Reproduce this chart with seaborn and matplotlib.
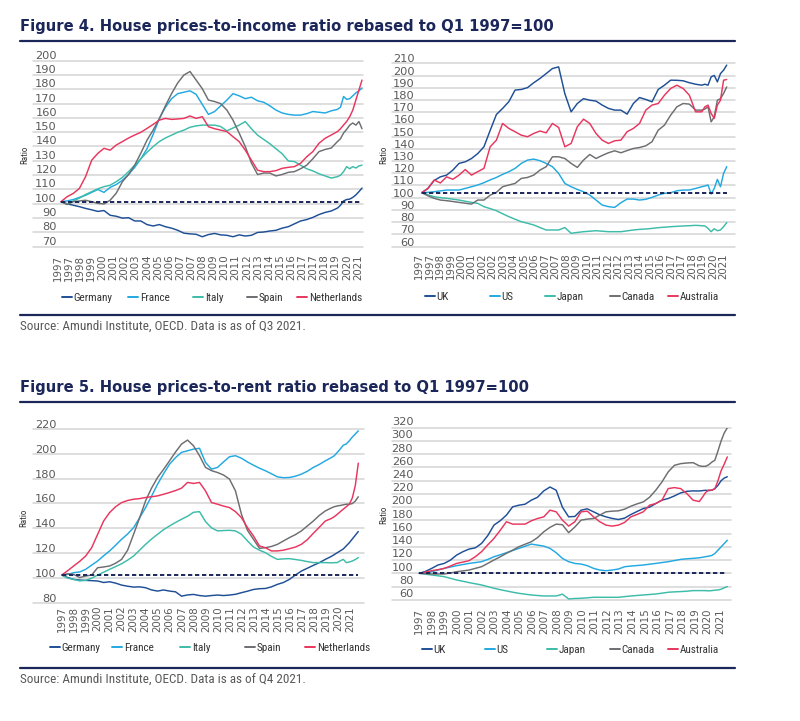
import numpy as np
import pandas as pd
import matplotlib.pyplot as plt
import seaborn as sns
from matplotlib.lines import Line2D
from matplotlib.transforms import ScaledTranslation

sns.set_theme(style="white")

W, H, DPI = 800, 721, 100
NAVY = "#1b2659"
GREY_TXT = "#595959"
NARROW = ["Liberation Sans Narrow", "DejaVu Sans Condensed", "Roboto Condensed", "DejaVu Sans"]
plt.rcParams["font.family"] = ["DejaVu Sans"]

# ---------------------------
# Data (half-yearly to 2019, quarterly afterwards)
# ---------------------------
t_income = [1997.0 + 0.5 * i for i in range(46)] + [2019.75 + 0.25 * i for i in range(8)]
t_rent = [1997.0 + 0.5 * i for i in range(46)] + [2019.75 + 0.25 * i for i in range(9)]
BASE = 100

eu_names = ["Germany", "France", "Italy", "Spain", "Netherlands"]
oth_names = ["UK", "US", "Japan", "Canada", "Australia"]
colors = ["#1e4f96", "#22a9e1", "#3dbcaa", "#6d6e71", "#e8365e"]

income_germany = [
    100, 98.5, 97.5, 96.5, 95.3, 94.3, 93.2, 93.8, 90.5, 89.8,
    88.5, 88.8, 86.5, 86.5, 84, 83, 84, 82.5, 81.5, 80,
    78, 77.5, 77.2, 75.5, 77, 77.8, 76.8, 76.5, 75.5, 76.8,
    76, 76.5, 78.5, 78.8, 79.5, 80, 81.5, 82.5, 84.5, 86.5,
    87.5, 89, 91, 92.5, 93.5, 95.5,
    97.5, 100.5, 101.5, 101.8, 103, 104.7, 107, 109.5]
income_france = [
    100, 100.5, 101.5, 103, 104.5, 106.5, 108.5, 106.5, 110, 112,
    115, 119, 124, 130, 137, 147, 158, 166, 172, 175.5,
    176.5, 177.5, 175, 168, 161, 163, 167, 171, 175.5, 174,
    172, 173, 170.5, 169.5, 167, 164, 162, 161, 160.5, 160.5,
    161.5, 163, 162.5, 162, 163.5, 164.5,
    166, 173.5, 171.5, 172, 174, 176, 177.5, 179.5]
income_italy = [
    100, 98.5, 100.5, 102.5, 105, 107, 109, 110.5, 111.5, 114,
    117, 121, 125.5, 130, 134.5, 138.5, 142, 144.5, 146.5, 148.5,
    150, 152, 153, 153.5, 153.5, 153.5, 152.5, 149.5, 151.5, 153.5,
    156, 151, 146.5, 143.5, 140.5, 137, 133.5, 128.5, 128, 125.5,
    123, 121.5, 119.5, 118, 116.5, 117.5,
    118.5, 121, 124.5, 123, 124.5, 123.5, 125, 125.5]
income_spain = [
    100, 98, 100, 100.5, 101, 100, 98.8, 98.4, 101, 106,
    114, 119, 125.5, 134, 143, 150, 158, 167, 175.5, 183,
    188.5, 191, 185, 179, 171, 170, 168.5, 164, 157, 148,
    138.5, 127, 119, 120, 120, 118, 119, 120.5, 121, 123,
    125.5, 130, 135, 136.5, 137.5, 142,
    144, 148, 150.5, 153.5, 155, 153.5, 156, 151]
income_netherlands = [
    100, 103.5, 105.8, 109.3, 117.5, 129, 133.8, 137.3, 136, 139.6,
    142, 144.5, 146.6, 148.5, 151.2, 154, 157, 158.2, 157.5, 157.8,
    158.2, 159.9, 158.2, 159.4, 152.4, 151, 150, 149, 145.4, 142,
    136, 129, 122, 121, 121, 121.7, 123.3, 124, 124.5, 126.8,
    131.4, 135, 140.8, 144.3, 146.6, 149,
    151, 153.6, 156, 159.4, 164, 171, 178, 185]

income_uk = [
    100, 103.5, 110, 113, 114.4, 118.5, 124, 125.3, 128, 132,
    137.6, 151, 164, 169, 174.5, 184, 184.5, 186, 190, 193.5,
    197.5, 201.6, 203, 181, 166.2, 173, 177, 175.7, 175, 171.7,
    169, 167.6, 167.6, 164.3, 173, 177.9, 176.3, 174.4, 184.5, 188,
    192.1, 192, 191.6, 190, 188.8, 188,
    188.8, 188, 194.8, 196, 190.7, 197.5, 200.3, 204.4]
income_us = [
    100, 100.3, 100.8, 101.5, 102.2, 102.2, 102.2, 103.5, 104.9, 106.3,
    108.2, 110.5, 112.5, 115, 117.2, 119.9, 124, 126.7, 127.5, 126.2,
    124, 121.3, 115.8, 107.6, 104.9, 102.7, 100.8, 98.1, 94, 89.9,
    88.6, 88, 91.8, 94.8, 94.8, 94, 94.6, 96.2, 98.1, 99.5,
    100, 101.6, 102.2, 102.2, 103.5, 104.9,
    105.5, 106.3, 98.9, 103.5, 110.9, 104.9, 115.8, 121.3]
income_japan = [
    100, 98.3, 96.7, 96, 95.4, 94.7, 94, 93, 92.1, 91.3,
    88.6, 87, 85.3, 82.8, 80.4, 78.3, 76.3, 75, 73.6, 71.5,
    69.5, 69.5, 69.5, 71.5, 66.8, 67.5, 68.1, 68.5, 68.9, 68.5,
    68.1, 68.1, 68.1, 68.8, 69.5, 70, 70.3, 70.8, 71.4, 71.8,
    72.2, 72.5, 72.8, 73, 73.3, 73,
    72.8, 70.8, 68.1, 70.5, 68.9, 69.5, 72.2, 75.5]
income_canada = [
    100, 97.5, 95.4, 94, 93.5, 92.8, 92.1, 91.4, 90.7, 94,
    94, 98, 100.3, 104.9, 106.3, 107.6, 111.7, 112.5, 114.4, 118.5,
    121.3, 129.4, 129.4, 128, 124, 120.7, 126.7, 131.3, 128, 130.5,
    132.7, 134.3, 132.7, 134.5, 136.2, 137, 138.4, 141.7, 151.2, 155.3,
    163.5, 170.3, 173, 172.5, 167.6, 167.6,
    168.5, 170.3, 158, 162.1, 175.7, 177, 181.2, 186.6]
income_australia = [
    100, 103.5, 110.4, 108, 113, 111, 114.4, 119, 114.4, 117.2,
    119.9, 137.6, 143, 156.7, 152.6, 149.9, 147.1, 145.8, 148.5, 150.5,
    149, 156.7, 153.4, 137.6, 140.3, 154, 160.2, 156.7, 148.5, 143,
    140.3, 142.5, 143, 149.9, 152.6, 156.7, 167.6, 171.7, 173, 179.8,
    185.3, 188, 185.3, 179.8, 166.2, 166.2,
    170.3, 171.7, 164.9, 160.8, 171.7, 175.7, 192.1, 192.6]

rent_germany = [
    100, 98, 96.5, 96, 95.7, 95.5, 95.2, 94, 94.6, 93.5,
    91.9, 91, 90.3, 90.5, 89.8, 88, 87.1, 88, 87.1, 86.5,
    83, 84, 84.4, 83.5, 83, 83.5, 83.9, 83.5, 83.9, 84.5,
    85.8, 87, 88.4, 89, 89.2, 90.5, 92.5, 94, 96.5, 100,
    103.2, 105.5, 107.8, 110, 112.6, 115,
    116.5, 118, 119.5, 121, 123.5, 126, 129, 132, 135]
rent_france = [
    100, 100.5, 101.9, 102.5, 104.6, 108, 111.3, 115.5, 119.4, 124,
    128.8, 133, 138.2, 146, 154.3, 163.5, 173.1, 181.5, 189.2, 194.5,
    198.7, 200, 201.3, 202, 190.6, 185.2, 186.6, 191, 195.2, 196,
    194, 191, 188.4, 186, 183.9, 181.5, 179, 178.3, 178.5, 179.5,
    181.2, 183.5, 186.6, 189, 191.9, 194.5,
    196, 198.7, 201.5, 204.5, 205.5, 208, 211, 213.5, 216]
rent_italy = [
    100, 97.5, 96.5, 95.3, 95.7, 97.5, 100, 102.3, 104.6, 106.8,
    109.1, 112, 115.3, 120, 124.7, 129, 132.8, 136.5, 139.5, 142.3,
    144.9, 147.3, 150.5, 151, 143, 138, 135.5, 135.8, 136, 135.5,
    132.8, 127.5, 122.6, 120, 118, 115, 112.6, 113, 113.2, 112.5,
    111.8, 110.8, 110, 110, 110, 109.8,
    110, 110, 111.5, 112.6, 110, 110.5, 111.3, 112.5, 114]
rent_spain = [
    100, 101, 100.5, 98, 99.2, 100, 105.9, 106.5, 107.3, 109.5,
    112.6, 120, 132.8, 146, 159.7, 170, 178.5, 185, 191.9, 199,
    205.4, 208.6, 204, 196, 186.6, 184, 182.5, 180.5, 177.2, 167.7,
    148.9, 136, 128.8, 121.5, 122, 123, 124.7, 127.4, 130.1, 132.5,
    135.5, 139.5, 143.5, 148, 151.6, 154,
    155, 155.6, 156, 156.5, 157, 157, 157.5, 159.5, 163]
rent_netherlands = [
    100, 103.5, 107.3, 111, 115.3, 122, 132.8, 143.5, 150.3, 155,
    158.3, 160, 161, 161.5, 162.4, 163, 163.7, 165, 166.4, 168,
    169.9, 174.5, 173.7, 174.5, 167.7, 158.3, 157, 155.5, 154.3, 151,
    146.2, 138.2, 131.5, 123.4, 122, 119.4, 119.4, 120, 121.2, 122.5,
    124.7, 128.5, 133.6, 138.5, 143.5, 145.5,
    147, 148.9, 151, 153, 155, 157, 162, 172, 190]

rent_uk = [
    100, 103, 107.5, 112.6, 115, 120, 127.6, 132.7, 136.7, 138.5,
    145.2, 157, 172.9, 179.5, 188, 200.5, 203, 204.5, 210.6, 215,
    224.6, 230.5, 225.6, 200, 185.4, 186, 195.5, 197.5, 193, 188.5,
    185.4, 183, 181.4, 183.5, 188.9, 193.5, 198, 200, 205.5, 210.6,
    213.1, 217, 221.6, 224, 224.6, 224.5,
    225, 225.6, 225, 225.6, 228, 233, 240, 244, 246]
rent_us = [
    100, 101, 102.5, 105, 107.5, 109.5, 111.6, 113.3, 115, 116.3,
    117.6, 121, 125.1, 128, 131.2, 134.5, 137.7, 141, 144.2, 142.7,
    141.2, 137.7, 131.2, 122.6, 117.6, 115, 114, 111.6, 107.5, 105,
    104, 105, 106.5, 110, 111, 111.8, 112.6, 113.8, 115, 116.3,
    117.6, 119.3, 121.1, 122, 122.6, 123.5,
    124.3, 125.1, 126, 127, 130, 135, 140, 145, 150]
rent_japan = [
    100, 98.7, 97.5, 96.3, 95, 92.5, 90, 88, 86, 84.2,
    82.4, 80, 77.4, 75.3, 73.4, 71.5, 69.8, 68.5, 67.3, 66.5,
    65.8, 65.8, 65.8, 68.5, 61.3, 62, 62.3, 63, 63.8, 63.8,
    63.8, 63.8, 63.8, 64.8, 65.8, 66.5, 67.3, 68, 68.8, 70,
    71.4, 72, 72.4, 73, 73.9, 73.9,
    73.9, 73.9, 73.5, 73.9, 74.5, 74.9, 76, 78, 80]
rent_canada = [
    100, 99.5, 99, 99, 99, 100.5, 102.5, 103.7, 105, 107.5,
    110, 115, 120.1, 125, 130.2, 135, 140.2, 144, 147.7, 154,
    162.8, 169.5, 174.4, 173.5, 161.5, 170, 180.4, 182, 182.9, 188,
    193, 194, 194.5, 197, 201.5, 205, 208, 215, 225.6, 238.2,
    253.3, 263.3, 265.8, 266.8, 267.3, 262.5,
    261.8, 261.8, 264, 268, 271, 285, 300, 312, 320]
rent_australia = [
    100, 102, 104, 105.5, 107.5, 111, 115, 117, 119.1, 125.1,
    132.7, 143, 152.8, 165, 178, 174.4, 174.4, 174.4, 179.4, 182.9,
    185.4, 195.5, 193, 180.4, 171.4, 178, 193, 194, 185.4, 178,
    172.9, 171.4, 172.9, 177, 185.4, 189, 193, 203, 205.5, 210.6,
    228.1, 229.6, 228.1, 220.6, 210.6, 208.5,
    215, 222, 226, 225.6, 228, 240, 255, 265, 276]

# x tick labels as printed on each panel
ticks_income_eu = ["1997", "1997", "1998", "1999", "2000", "2001", "2002", "2003", "2004",
                   "2005", "2006", "2007", "2007", "2008", "2009", "2010", "2011", "2012",
                   "2013", "2014", "2015", "2016", "2017", "2017", "2018", "2019", "2020", "2021"]
ticks_income_oth = ["1997", "1997", "1998", "1999", "2000", "2001", "2002", "2002", "2003",
                    "2004", "2005", "2006", "2007", "2007", "2008", "2009", "2010", "2011",
                    "2012", "2012", "2013", "2014", "2015", "2016", "2017", "2017", "2018",
                    "2019", "2020", "2021"]
ticks_rent = [str(y) for y in range(1997, 2022)]

# ---------------------------
# Panel layout (pixel positions)
# ---------------------------
panels = [
    dict(t=t_income, names=eu_names,
         vals=[income_germany, income_france, income_italy, income_spain, income_netherlands],
         box=(33, 58.6, 363, 244.6), data_px=(61, 362), tick_px=(58, 358), ticks=ticks_income_eu,
         ylim=(70, 200), step=10, grid_shift=2, label_shift=4, label_right=57, xpad=10,
         ratio=(25, 155), leg_y=298, leg_x=[62, 128, 193, 247, 297]),
    dict(t=t_income, names=oth_names,
         vals=[income_uk, income_us, income_japan, income_canada, income_australia],
         box=(391.7, 58.3, 735, 241.6), data_px=(421.7, 726.7), tick_px=(419.3, 723.3),
         ticks=ticks_income_oth,
         ylim=(60, 210), step=10, grid_shift=5, label_shift=0, label_right=415, xpad=11.5,
         ratio=(384, 155), leg_y=297, leg_x=[425, 490, 545, 610, 668]),
    dict(t=t_rent, names=eu_names,
         vals=[rent_germany, rent_france, rent_italy, rent_spain, rent_netherlands],
         box=(33, 425.9, 364, 599.9), data_px=(61.7, 358.3), tick_px=(61.7, 350), ticks=ticks_rent,
         ylim=(80, 220), step=20, grid_shift=3, label_shift=2, label_right=56.7, xpad=6,
         ratio=(23.3, 518), leg_y=648, leg_x=[50, 112, 180, 245, 305]),
    dict(t=t_rent, names=oth_names,
         vals=[rent_uk, rent_us, rent_japan, rent_canada, rent_australia],
         box=(391.7, 427.8, 730.7, 599.8), data_px=(419.3, 727.3), tick_px=(419.3, 720),
         ticks=ticks_rent,
         ylim=(60, 320), step=20, grid_shift=0, label_shift=6.7, label_right=413.3, xpad=8.5,
         ratio=(383.3, 515), leg_y=650, leg_x=[422, 485, 547, 610, 668]),
]


def fx(x):
    return x / W


def fy(y):
    return 1 - y / H


fig = plt.figure(figsize=(W / DPI, H / DPI), dpi=DPI)

# Titles, rules and sources
titles = [
    (26.5, 41, 315, 326, "Figure 4. House prices-to-income ratio rebased to Q1 1997=100",
     "Source: Amundi Institute, OECD. Data is as of Q3 2021."),
    (387.5, 402.3, 668, 679.5, "Figure 5. House prices-to-rent ratio rebased to Q1 1997=100",
     "Source: Amundi Institute, OECD. Data is as of Q4 2021."),
]
for ty, r1, r2, sy, title, source in titles:
    fig.text(fx(20.5), fy(ty), title, fontsize=10.6, fontweight="bold", color=NAVY,
             va="center", ha="left", family="DejaVu Sans")
    for ry in (r1, r2):
        fig.add_artist(Line2D([fx(20), fx(735)], [fy(ry), fy(ry)], color=NAVY, lw=1.6))
    fig.text(fx(20.5), fy(sy), source, fontsize=9.5, color=GREY_TXT, va="center", ha="left",
             family=NARROW)

for p in panels:
    left, top, right, bottom = p["box"]
    ax = fig.add_axes([fx(left), fy(bottom), (right - left) / W, (bottom - top) / H])
    t = p["t"]
    pal = dict(zip(p["names"], colors))

    frames = [pd.DataFrame({"period": t, "ratio": v, "country": n}) for n, v in zip(p["names"], p["vals"])]
    df = pd.concat(frames, ignore_index=True)
    sns.lineplot(data=df, x="period", y="ratio", hue="country", hue_order=p["names"],
                 palette=pal, estimator=None, linewidth=1.05, legend=False, ax=ax)
    ax.plot([t[0], t[-1]], [BASE, BASE], color=NAVY, lw=1.4, ls=(0, (2.2, 1.4)), zorder=5)

    # x scale from pixel layout
    x0, x1 = p["data_px"]
    scale = (x1 - x0) / (t[-1] - t[0])
    ax.set_xlim(t[0] - (x0 - left) / scale, t[-1] + (right - x1) / scale)
    tick_years = t[0] + (np.linspace(p["tick_px"][0], p["tick_px"][1], len(p["ticks"])) - x0) / scale
    ax.set_xticks(tick_years)
    ax.set_xticklabels(p["ticks"], rotation=90)

    lo, hi = p["ylim"]
    ax.set_ylim(lo, hi)
    ax.set_yticks(np.arange(lo, hi + 1, p["step"]))
    ax.set_xlabel("")
    ax.set_ylabel("")
    for s in ax.spines.values():
        s.set_visible(False)

    ax.tick_params(axis="x", length=0, pad=p["xpad"] * 0.72, labelsize=7.4, labelcolor=GREY_TXT)
    ax.tick_params(axis="y", length=0, pad=-(p["label_right"] - left) * 0.72, labelsize=8.2,
                   labelcolor=GREY_TXT)
    ax.grid(axis="y", color="#d4d4d4", linewidth=1.1)
    ax.grid(axis="x", visible=False)

    # gridlines sit a little below the values, labels a little above
    down = ScaledTranslation(0, -p["grid_shift"] / DPI, fig.dpi_scale_trans)
    for gl in ax.get_ygridlines():
        gl.set_transform(gl.get_transform() + down)
        gl.set_clip_on(False)
    up = ScaledTranslation(0, p["label_shift"] / DPI, fig.dpi_scale_trans)
    for lbl in ax.get_yticklabels():
        lbl.set_transform(lbl.get_transform() + up)

    rx, ry = p["ratio"]
    fig.text(fx(rx), fy(ry), "Ratio", rotation=90, ha="center", va="center", fontsize=6.5,
             color="#333333", family=NARROW)

    for name, lx in zip(p["names"], p["leg_x"]):
        h = Line2D([], [], color=pal[name], lw=1.4)
        fig.legend([h], [name], loc="center left", bbox_to_anchor=(fx(lx), fy(p["leg_y"])),
                   bbox_transform=fig.transFigure, frameon=False, borderpad=0, borderaxespad=0,
                   handlelength=0.9, handletextpad=0.15, labelcolor="#333333",
                   prop=dict(family=NARROW, size=8))

fig.savefig("out.png", dpi=DPI)
